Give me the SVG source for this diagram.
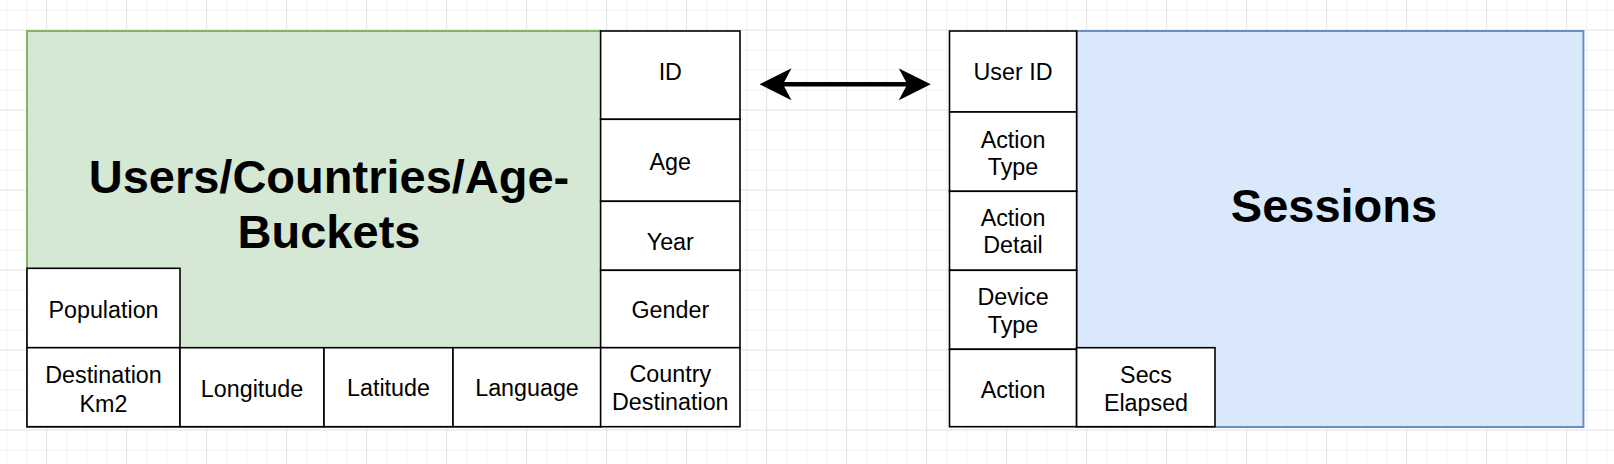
<svg xmlns="http://www.w3.org/2000/svg" width="1614" height="464" viewBox="0 0 1614 464">
  <defs>
    <pattern id="grid" patternUnits="userSpaceOnUse" x="0" y="0" width="80" height="80">
      <path d="M6.7 0V80M26.7 0V80M66.7 0V80M0 10H80M0 50H80M0 70H80" stroke="#f2f2f2" stroke-width="1" fill="none"/>
      <path d="M46.7 0V80M0 30H80" stroke="#e2e2e2" stroke-width="1" fill="none"/>
    </pattern>
    <marker id="arrow" markerUnits="userSpaceOnUse" markerWidth="32" markerHeight="32" viewBox="0 0 30 30" refX="8" refY="15" orient="auto-start-reverse">
      <path d="M0 0L30 15L0 30L8 15Z" fill="#000"/>
    </marker>
    <style>
      .cell { fill: #ffffff; stroke: #000000; stroke-width: 1.6; }
      .lbl { font-family: "Liberation Sans", Arial, Helvetica, sans-serif; font-size: 23.3px; fill: #000; text-anchor: middle; }
      .title { font-family: "Liberation Sans", Arial, Helvetica, sans-serif; font-size: 47px; font-weight: bold; fill: #000; text-anchor: middle; }
    </style>
  </defs>
  <rect width="1614" height="464" fill="#ffffff"/>
  <rect width="1614" height="464" fill="url(#grid)"/>

  <g id="users">
    <rect x="27" y="31" width="574" height="396" fill="#d5e8d4" stroke="#82b366" stroke-width="2"/>
    <text class="title" x="329" y="193">Users/Countries/Age-</text>
    <text class="title" x="329" y="248">Buckets</text>
  </g>

  <g id="sessions">
    <rect x="1076.6" y="31" width="506.8" height="396" fill="#dae8fc" stroke="#6c8ebf" stroke-width="2"/>
    <text class="title" x="1334" y="221.7">Sessions</text>
  </g>

  <g id="population">
    <rect class="cell" x="27" y="268.3" width="153" height="79.4"/>
    <text class="lbl" x="103.5" y="317.7">Population</text>
  </g>
  <g id="destination-km2">
    <rect class="cell" x="27" y="347.7" width="153" height="79"/>
    <text class="lbl" x="103.5" y="383.3">Destination</text>
    <text class="lbl" x="103.5" y="411.7">Km2</text>
  </g>
  <g id="longitude">
    <rect class="cell" x="180" y="347.7" width="144" height="79"/>
    <text class="lbl" x="252" y="397">Longitude</text>
  </g>
  <g id="latitude">
    <rect class="cell" x="324" y="347.7" width="129" height="79"/>
    <text class="lbl" x="388.5" y="396">Latitude</text>
  </g>
  <g id="language">
    <rect class="cell" x="453" y="347.7" width="148" height="79"/>
    <text class="lbl" x="527" y="396">Language</text>
  </g>

  <g id="id">
    <rect class="cell" x="600.6" y="31" width="139.4" height="88.3"/>
    <text class="lbl" x="670.3" y="80">ID</text>
  </g>
  <g id="age">
    <rect class="cell" x="600.6" y="119.3" width="139.4" height="82"/>
    <text class="lbl" x="670.3" y="170">Age</text>
  </g>
  <g id="year">
    <rect class="cell" x="600.6" y="201.3" width="139.4" height="69"/>
    <text class="lbl" x="670.3" y="250">Year</text>
  </g>
  <g id="gender">
    <rect class="cell" x="600.6" y="270.3" width="139.4" height="77.4"/>
    <text class="lbl" x="670.3" y="317.7">Gender</text>
  </g>
  <g id="country-destination">
    <rect class="cell" x="600.6" y="347.7" width="139.4" height="79"/>
    <text class="lbl" x="670.3" y="382.3">Country</text>
    <text class="lbl" x="670.3" y="409.7">Destination</text>
  </g>

  <g id="user-id">
    <rect class="cell" x="949.5" y="31" width="127.1" height="81"/>
    <text class="lbl" x="1013" y="80">User ID</text>
  </g>
  <g id="action-type">
    <rect class="cell" x="949.5" y="112" width="127.1" height="79.3"/>
    <text class="lbl" x="1013" y="147.7">Action</text>
    <text class="lbl" x="1013" y="175">Type</text>
  </g>
  <g id="action-detail">
    <rect class="cell" x="949.5" y="191.3" width="127.1" height="79"/>
    <text class="lbl" x="1013" y="226">Action</text>
    <text class="lbl" x="1013" y="253.3">Detail</text>
  </g>
  <g id="device-type">
    <rect class="cell" x="949.5" y="270.3" width="127.1" height="79"/>
    <text class="lbl" x="1013" y="305">Device</text>
    <text class="lbl" x="1013" y="333.3">Type</text>
  </g>
  <g id="action">
    <rect class="cell" x="949.5" y="349.3" width="127.1" height="77.4"/>
    <text class="lbl" x="1013" y="397.7">Action</text>
  </g>
  <g id="secs-elapsed">
    <rect class="cell" x="1076.6" y="347.7" width="138.4" height="79"/>
    <text class="lbl" x="1146" y="383.3">Secs</text>
    <text class="lbl" x="1146" y="411">Elapsed</text>
  </g>

  <g id="connectors">
    <line x1="783" y1="84.3" x2="907.3" y2="84.3" stroke="#000" stroke-width="4.5" marker-start="url(#arrow)" marker-end="url(#arrow)"/>
  </g>
</svg>
